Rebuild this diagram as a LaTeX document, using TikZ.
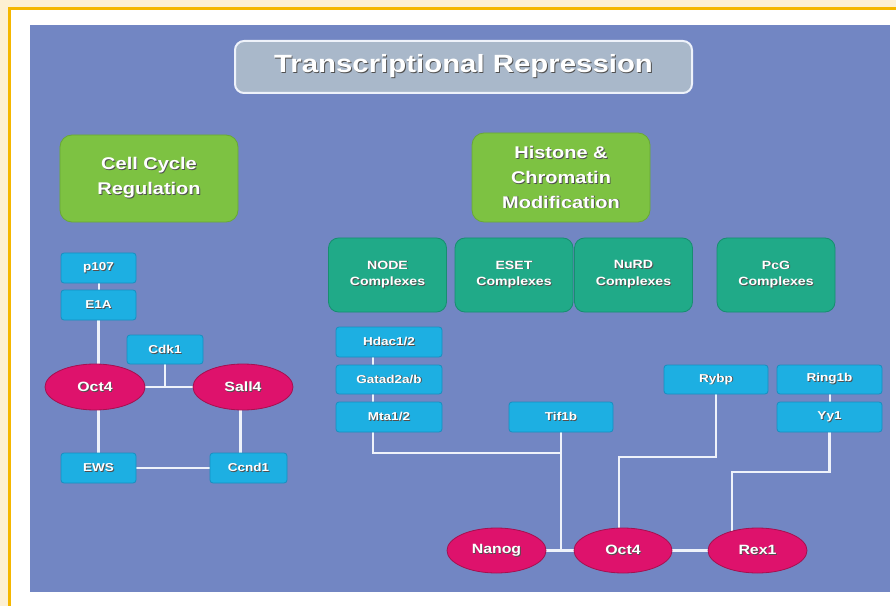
\documentclass[tikz,border=0pt]{standalone}
\usepackage{fontspec}
\newfontfamily\dfont[FakeStretch=1.18]{Liberation Sans}
\usetikzlibrary{shapes.geometric}
\definecolor{cream}{HTML}{FDF0D3}
\definecolor{frameor}{HTML}{F5B700}
\definecolor{panelc}{HTML}{7286C3}
\definecolor{titlef}{HTML}{A9B8CA}
\definecolor{greenf}{HTML}{7DC242}
\definecolor{greend}{HTML}{69A836}
\definecolor{tealf}{HTML}{20AA88}
\definecolor{teald}{HTML}{178E70}
\definecolor{cyanf}{HTML}{1DAFE2}
\definecolor{cyand}{HTML}{178FC0}
\definecolor{magf}{HTML}{DE126C}
\definecolor{magd}{HTML}{A5104F}
\definecolor{shd}{HTML}{505050}
\definecolor{wirec}{HTML}{EEF2FA}
\newcommand\sht[1]{\leavevmode\rlap{\hspace{0.9pt}\raisebox{-0.9pt}{\textcolor{shd}{#1}}}#1}
\pgfdeclarelayer{panel}
\pgfdeclarelayer{wires}
\pgfsetlayers{panel,wires,main}
\tikzset{
  basetext/.style={text=white, font=\dfont\bfseries, align=center, inner sep=0pt},
  smallbox/.style={basetext, draw=cyand, line width=0.8bp, fill=cyanf, rounded corners=3bp, minimum height=30bp, font=\dfont\bfseries\fontsize{11.5}{14}\selectfont},
  ellnode/.style={basetext, ellipse, draw=magd, line width=0.8bp, fill=magf, minimum width=99bp, minimum height=45bp, font=\dfont\bfseries\fontsize{13.5}{16}\selectfont},
  cplx/.style={basetext, draw=teald, line width=0.8bp, fill=tealf, rounded corners=10bp, minimum width=118bp, minimum height=74bp, font=\dfont\bfseries\fontsize{12}{17}\selectfont},
  greenbox/.style={basetext, draw=greend, line width=0.8bp, fill=greenf, rounded corners=12bp, minimum width=178bp, font=\dfont\bfseries\fontsize{17}{25}\selectfont},
  titlebox/.style={basetext, draw=wirec, line width=2bp, fill=titlef, rounded corners=9bp, minimum width=457bp, minimum height=52bp, font=\dfont\bfseries\fontsize{25}{30}\selectfont},
  wire/.style={draw=wirec, line width=2.2bp},
  link/.style={draw=wirec, line width=2bp}
}
\begin{document}
\begin{tikzpicture}[x=1bp,y=-1bp]
\useasboundingbox (0,0) rectangle (896,606);
\begin{pgfonlayer}{panel}
  \fill[cream] (0,0) rectangle (896,606);
  \fill[white] (9.5,8.5) rectangle (896,606);
  \draw[frameor, line width=2.6bp] (9.5,606) -- (9.5,8.5) -- (896,8.5);
  \fill[panelc] (30,25) rectangle (890,592);
\end{pgfonlayer}

% title and headers
\node[titlebox] (title) at (463.5,67) {\sht{Transcriptional Repression}};
\node[greenbox, minimum height=87bp] (cellcyc) at (149,178.5) {\sht{Cell Cycle}\\\sht{Regulation}};
\node[greenbox, minimum height=89bp] (histone) at (561,177.5) {\sht{Histone \&}\\\sht{Chromatin}\\\sht{Modification}};

% complexes
\node[cplx] (node) at (387.5,275) {\sht{NODE}\\\sht{Complexes}};
\node[cplx] (eset) at (514,275) {\sht{ESET}\\\sht{Complexes}};
\node[cplx] (nurd) at (633.5,275) {\sht{NuRD}\\\sht{Complexes}};
\node[cplx] (pcg) at (776,275) {\sht{PcG}\\\sht{Complexes}};

% cell cycle network
\node[smallbox, minimum width=75bp] (p107) at (98.5,268) {\sht{p107}};
\node[smallbox, minimum width=75bp] (e1a) at (98.5,305) {\sht{E1A}};
\node[smallbox, minimum width=76bp, minimum height=29bp] (cdk1) at (165,349.5) {\sht{Cdk1}};
\node[ellnode, minimum width=100bp, minimum height=46bp] (octL) at (95,387) {\sht{Oct4}};
\node[ellnode, minimum width=100bp, minimum height=46bp] (sall4) at (243,387) {\sht{Sall4}};
\node[smallbox, minimum width=75bp] (ews) at (98.5,468) {\sht{EWS}};
\node[smallbox, minimum width=77bp] (ccnd1) at (248.5,468) {\sht{Ccnd1}};

% histone network
\node[smallbox, minimum width=106bp] (hdac) at (389,342) {\sht{Hdac1/2}};
\node[smallbox, minimum width=106bp, minimum height=29bp] (gatad) at (389,379.5) {\sht{Gatad2a/b}};
\node[smallbox, minimum width=106bp] (mta) at (389,417) {\sht{Mta1/2}};
\node[smallbox, minimum width=104bp] (tif1b) at (561,417) {\sht{Tif1b}};
\node[smallbox, minimum width=104bp, minimum height=29bp] (rybp) at (716,379.5) {\sht{Rybp}};
\node[smallbox, minimum width=105bp, minimum height=29bp] (ring1b) at (829.5,379.5) {\sht{Ring1b}};
\node[smallbox, minimum width=105bp] (yy1) at (829.5,417) {\sht{Yy1}};
\node[ellnode] (nanog) at (496.5,550.5) {\sht{Nanog}};
\node[ellnode, minimum width=98bp] (octR) at (623,550.5) {\sht{Oct4}};
\node[ellnode] (rex1) at (757.5,550.5) {\sht{Rex1}};

\coordinate (j1) at (561,453);
\coordinate (j2) at (619,457);
\coordinate (j3) at (732,472);

\begin{pgfonlayer}{wires}
  \draw[link] (p107.south) -- (e1a.north);
  \draw[wire] (e1a.south) -- (e1a.south |- octL.center);
  \draw[wire] (octL.center) -- (sall4.center);
  \draw[wire] (cdk1.south) -- (cdk1.south |- octL.center);
  \draw[wire] (ews.north) -- (ews.north |- octL.center);
  \draw[wire] ([xshift=-2.5bp]sall4.center) -- ([xshift=-2.5bp]sall4.center |- ccnd1.north);
  \draw[wire] (ews.center) -- (ccnd1.center);

  \draw[link] ([xshift=-16bp]hdac.south) -- ([xshift=-16bp]gatad.north);
  \draw[link] ([xshift=-16bp]gatad.south) -- ([xshift=-16bp]mta.north);
  \draw[wire] ([xshift=-16bp]mta.south) |- (j1);
  \draw[wire] (tif1b.south) -- (tif1b.south |- octR.center);
  \draw[wire] (nanog.center) -- (octR.center);
  \draw[wire] (rybp.south) |- (j2) -- (j2 |- octR.center);
  \draw[wire] (octR.center) -- (rex1.center);
  \draw[link] (ring1b.south) -- (yy1.north);
  \draw[wire] (yy1.south) |- (j3) -- (j3 |- rex1.center);
\end{pgfonlayer}
\end{tikzpicture}
\end{document}
